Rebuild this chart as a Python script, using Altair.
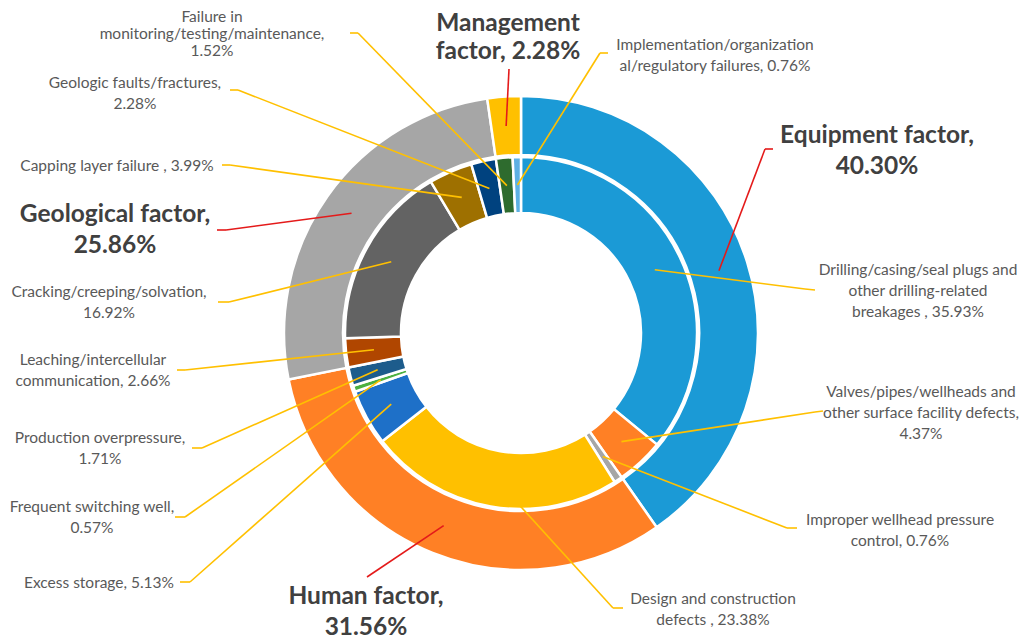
import math
import altair as alt
import pandas as pd

# ---------------- data ----------------
factor_names = ["Equipment factor", "Human factor", "Geological factor", "Management factor"]
factor_values = [40.30, 31.56, 25.86, 2.28]

cause_names = [
    "Drilling/casing/seal plugs and other drilling-related breakages",
    "Valves/pipes/wellheads and other surface facility defects",
    "Improper wellhead pressure control",
    "Design and construction defects",
    "Excess storage",
    "Frequent switching well",
    "Production overpressure",
    "Leaching/intercellular communication",
    "Cracking/creeping/solvation",
    "Capping layer failure",
    "Geologic faults/fractures",
    "Failure in monitoring/testing/maintenance",
    "Implementation/organizational/regulatory failures",
]
cause_values = [35.93, 4.37, 0.76, 23.38, 5.13, 0.57, 1.71, 2.66, 16.92, 3.99, 2.28, 1.52, 0.76]

# label text templates (line breaks as displayed)
factor_label_text = ["Equipment factor,\n{}", "Human factor,\n{}", "Geological factor,\n{}", "Management\nfactor, {}"]
cause_label_text = [
    "Drilling/casing/seal plugs and\nother drilling-related\nbreakages , {}",
    "Valves/pipes/wellheads and\nother surface facility defects,\n{}",
    "Improper wellhead pressure\ncontrol, {}",
    "Design and construction\ndefects , {}",
    "Excess storage, {}",
    "Frequent switching well,\n{}",
    "Production overpressure,\n{}",
    "Leaching/intercellular\ncommunication, {}",
    "Cracking/creeping/solvation,\n{}",
    "Capping layer failure , {}",
    "Geologic faults/fractures,\n{}",
    "Failure in\nmonitoring/testing/maintenance,\n{}",
    "Implementation/organization\nal/regulatory failures, {}",
]

# ---------------- styles / layout ----------------
factor_colors = ["#1B9AD6", "#FF8025", "#A6A6A6", "#FFC000"]
cause_colors = ["#1B9AD6", "#FF8025", "#A6A6A6", "#FFC000", "#1E70C8", "#4CB040", "#1D5C8C",
                "#B04600", "#636363", "#9E7000", "#00427F", "#2E6B2E", "#5DB0E3"]

W, H = 1015, 631
M = 8
CX, CY = 521, 333
R_OUT, R_OUT2 = 237, 178
R_IN, R_IN2 = 176, 120

# label first-line centre + line spacing, leader start and elbow (page pixels)
factor_label_pos = [(877, 136, 31), (366, 597, 31), (115, 215, 31), (508, 24, 28)]
factor_leader = [((773, 149), (765, 149)), ((367, 577), (367, 577)),
                 ((217, 230), (226, 230)), ((509, 69), (509, 69))]
cause_label_pos = [(918, 270, 21), (921, 392, 21), (900, 520, 21), (713, 599, 21), (99, 583, 21),
                   (92, 507, 21), (100, 438, 21), (93, 360, 21), (109, 292, 21), (117, 166, 21),
                   (135, 83, 21), (212, 17, 17), (715, 45, 21)]
cause_leader = [((815, 290), (805, 289)), ((823, 411), (815, 412)), ((797, 528), (787, 528)),
                ((623, 608), (613, 608)), ((180, 582), (190, 582)), ((175, 517), (185, 517)),
                ((192, 448), (202, 448)), ((177, 370), (185, 370)), ((218, 302), (229, 302)),
                ((222, 165), (230, 165)), ((230, 90), (238, 90)), ((350, 33), (358, 33)),
                ((608, 53), (600, 53))]


def centroids(values, r):
    total = sum(values)
    out = []
    cum = 0.0
    for v in values:
        a = (cum + v / 2) / total * 2 * math.pi
        out.append((CX + r * math.sin(a), CY - r * math.cos(a)))
        cum += v
    return out


def text_rows(templates, values, positions):
    rows = []
    for t, v, (x, y, lh) in zip(templates, values, positions):
        for i, line in enumerate(t.format(f"{v:.2f}%").split("\n")):
            rows.append({"x": x, "y": y + i * lh, "label": line})
    return pd.DataFrame(rows)


outer_df = pd.DataFrame({"name": factor_names, "value": factor_values,
                         "order": list(range(len(factor_names))), "fill": factor_colors})
inner_df = pd.DataFrame({"name": cause_names, "value": cause_values,
                         "order": list(range(len(cause_names))), "fill": cause_colors})

seg_rows = []
for (s, e), c in zip(factor_leader, centroids(factor_values, (R_OUT + R_OUT2) / 2)):
    seg_rows.append({"x": s[0], "y": s[1], "x2": e[0], "y2": e[1], "col": "#E41A1A"})
    seg_rows.append({"x": e[0], "y": e[1], "x2": c[0], "y2": c[1], "col": "#E41A1A"})
for (s, e), c in zip(cause_leader, centroids(cause_values, (R_IN + R_IN2) / 2)):
    seg_rows.append({"x": s[0], "y": s[1], "x2": e[0], "y2": e[1], "col": "#FFC000"})
    seg_rows.append({"x": e[0], "y": e[1], "x2": c[0], "y2": c[1], "col": "#FFC000"})
seg_df = pd.DataFrame(seg_rows)

small_df = text_rows(cause_label_text, cause_values, cause_label_pos)
big_df = text_rows(factor_label_text, factor_values, factor_label_pos)

xs = alt.Scale(domain=[M, M + W], range=[0, W], nice=False, zero=False)
ys = alt.Scale(domain=[M, M + H], range=[0, H], nice=False, zero=False)

outer = alt.Chart(outer_df).mark_arc(radius=R_OUT, radius2=R_OUT2, stroke="white", strokeWidth=2.5).encode(
    theta=alt.Theta("value:Q", stack=True),
    order=alt.Order("order:Q"),
    color=alt.Color("fill:N", scale=None),
    x=alt.value(CX - M), y=alt.value(CY - M),
)
inner = alt.Chart(inner_df).mark_arc(radius=R_IN, radius2=R_IN2, stroke="white", strokeWidth=2.5).encode(
    theta=alt.Theta("value:Q", stack=True),
    order=alt.Order("order:Q"),
    color=alt.Color("fill:N", scale=None),
    x=alt.value(CX - M), y=alt.value(CY - M),
)
leaders = alt.Chart(seg_df).mark_rule(strokeWidth=1.6).encode(
    x=alt.X("x:Q", scale=xs, axis=None), y=alt.Y("y:Q", scale=ys, axis=None),
    x2="x2:Q", y2="y2:Q",
    color=alt.Color("col:N", scale=None),
)
small_text = alt.Chart(small_df).mark_text(
    font="Lato", fontSize=15.5, color="#595959", align="center", baseline="middle",
).encode(x=alt.X("x:Q", scale=xs, axis=None), y=alt.Y("y:Q", scale=ys, axis=None), text="label:N")
big_text = alt.Chart(big_df).mark_text(
    font="Lato", fontSize=24.5, fontWeight="bold", color="#404040", align="center", baseline="middle",
).encode(x=alt.X("x:Q", scale=xs, axis=None), y=alt.Y("y:Q", scale=ys, axis=None), text="label:N")

chart = alt.layer(outer, inner, leaders, small_text, big_text).resolve_scale(
    theta="independent"
).properties(
    width=W, height=H, padding=0, autosize="none", background="white"
).configure_view(stroke=None)

chart.save("out.html", embed_options={"renderer": "svg", "actions": False})
